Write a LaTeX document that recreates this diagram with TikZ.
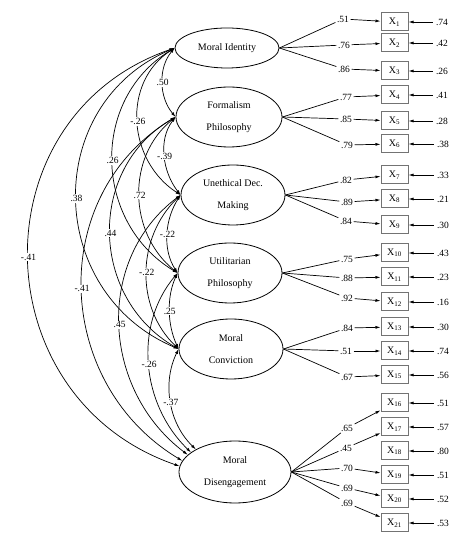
\documentclass[tikz,border=0pt]{standalone}
\usepackage{fontspec}
\setmainfont{Liberation Serif}
\usetikzlibrary{shapes.geometric, arrows.meta, positioning}

\begin{document}
\begin{tikzpicture}[
  x=1pt, y=1pt,
  latent/.style={
    ellipse,
    draw,
    line width=0.8pt,
    minimum width=#1,
    minimum height=60pt,
    inner sep=0pt,
    align=center,
    font=\fontsize{10}{22}\selectfont
  },
  latent/.default=106pt,
  item/.style={
    rectangle,
    draw=black!55,
    line width=1pt,
    minimum width=27pt,
    minimum height=18pt,
    inner sep=0pt,
    font=\fontsize{10}{12}\selectfont
  },
  coef/.style={inner sep=1.5pt, font=\fontsize{9.5}{11}\selectfont},
  errlab/.style={inner sep=3pt, font=\fontsize{9.5}{11}\selectfont},
  covlab/.style={fill=white, inner sep=1pt, font=\fontsize{9.5}{11}\selectfont},
  load/.style={line width=0.7pt, -{Latex[length=5pt,width=3pt]}},
  cov/.style={line width=0.7pt, {Latex[length=5pt,width=3pt]}-{Latex[length=5pt,width=3pt]}}
]
  \useasboundingbox (0,0) rectangle (474,543);

  \node[latent=104pt, minimum height=40pt] (mi) at (227,495) {Moral Identity};
  \node[latent] (fp) at (229,426) {Formalism\\Philosophy};
  \node[latent=104pt] (udm) at (233,348) {Unethical Dec.\\Making};
  \node[latent=104pt] (up) at (230,270) {Utilitarian\\Philosophy};
  \node[latent=104pt] (mc) at (231,194) {Moral\\Conviction};
  \node[latent=112pt, minimum height=62pt] (md) at (235,71) {Moral\\Disengagement};

  \node[item] (x1) at (394.5,521) {X\textsubscript{1}};
  \node[item] (x2) at (394.5,500) {X\textsubscript{2}};
  \node[item] (x3) at (394.5,472) {X\textsubscript{3}};
  \node[item] (x4) at (394.5,448) {X\textsubscript{4}};
  \node[item] (x5) at (394.5,422) {X\textsubscript{5}};
  \node[item] (x6) at (394.5,399) {X\textsubscript{6}};
  \node[item] (x7) at (394.5,368) {X\textsubscript{7}};
  \node[item] (x8) at (394.5,344) {X\textsubscript{8}};
  \node[item] (x9) at (394.5,318) {X\textsubscript{9}};
  \node[item] (x10) at (394.5,290) {X\textsubscript{10}};
  \node[item] (x11) at (394.5,266) {X\textsubscript{11}};
  \node[item] (x12) at (394.5,241) {X\textsubscript{12}};
  \node[item] (x13) at (394.5,216) {X\textsubscript{13}};
  \node[item] (x14) at (394.5,192) {X\textsubscript{14}};
  \node[item] (x15) at (394.5,168) {X\textsubscript{15}};
  \node[item] (x16) at (394.5,140) {X\textsubscript{16}};
  \node[item] (x17) at (394.5,116) {X\textsubscript{17}};
  \node[item] (x18) at (394.5,92) {X\textsubscript{18}};
  \node[item] (x19) at (394.5,68) {X\textsubscript{19}};
  \node[item] (x20) at (394.5,44) {X\textsubscript{20}};
  \node[item] (x21) at (394.5,20) {X\textsubscript{21}};

  \node[coef] (l1) at (343,524) {.51};
  \node[coef] (l2) at (344,498) {.76};
  \node[coef] (l3) at (344,474) {.86};
  \node[coef] (l4) at (346,446) {.77};
  \node[coef] (l5) at (346,424) {.85};
  \node[coef] (l6) at (347,398) {.79};
  \node[coef] (l7) at (346,363) {.82};
  \node[coef] (l8) at (347,341) {.89};
  \node[coef] (l9) at (346,322) {.84};
  \node[coef] (l10) at (347,284) {.75};
  \node[coef] (l11) at (347,265) {.88};
  \node[coef] (l12) at (347,245) {.92};
  \node[coef] (l13) at (347,215) {.84};
  \node[coef] (l14) at (346,192) {.51};
  \node[coef] (l15) at (347,166) {.67};
  \node[coef] (l16) at (347,115) {.65};
  \node[coef] (l17) at (346,95) {.45};
  \node[coef] (l19) at (347,75) {.70};
  \node[coef] (l20) at (347,55) {.69};
  \node[coef] (l21) at (347,40) {.69};

  \node[errlab] (e1) at (442,521) {.74};
  \node[errlab] (e2) at (442,500) {.42};
  \node[errlab] (e3) at (442,472) {.26};
  \node[errlab] (e4) at (442,448) {.41};
  \node[errlab] (e5) at (442,422) {.28};
  \node[errlab] (e6) at (443,399) {.38};
  \node[errlab] (e7) at (443,368) {.33};
  \node[errlab] (e8) at (443,344) {.21};
  \node[errlab] (e9) at (443,318) {.30};
  \node[errlab] (e10) at (443,290) {.43};
  \node[errlab] (e11) at (443,266) {.23};
  \node[errlab] (e12) at (443,241) {.16};
  \node[errlab] (e13) at (443,216) {.30};
  \node[errlab] (e14) at (443,192) {.74};
  \node[errlab] (e15) at (443,168) {.56};
  \node[errlab] (e16) at (443,140) {.51};
  \node[errlab] (e17) at (443,116) {.57};
  \node[errlab] (e18) at (443,92) {.80};
  \node[errlab] (e19) at (443,68) {.51};
  \node[errlab] (e20) at (443,44) {.52};
  \node[errlab] (e21) at (443,20) {.53};

  \draw[line width=0.7pt] (mi.east) -- (l1);
  \draw[line width=0.7pt] (mi.east) -- (l2);
  \draw[line width=0.7pt] (mi.east) -- (l3);
  \draw[line width=0.7pt] (fp.east) -- (l4);
  \draw[line width=0.7pt] (fp.east) -- (l5);
  \draw[line width=0.7pt] (fp.east) -- (l6);
  \draw[line width=0.7pt] (udm.east) -- (l7);
  \draw[line width=0.7pt] (udm.east) -- (l8);
  \draw[line width=0.7pt] (udm.east) -- (l9);
  \draw[line width=0.7pt] (up.east) -- (l10);
  \draw[line width=0.7pt] (up.east) -- (l11);
  \draw[line width=0.7pt] (up.east) -- (l12);
  \draw[line width=0.7pt] (mc.east) -- (l13);
  \draw[line width=0.7pt] (mc.east) -- (l14);
  \draw[line width=0.7pt] (mc.east) -- (l15);
  \draw[line width=0.7pt] (md.east) -- (l16);
  \draw[line width=0.7pt] (md.east) -- (l17);
  \draw[line width=0.7pt] (md.east) -- (l19);
  \draw[line width=0.7pt] (md.east) -- (l20);
  \draw[line width=0.7pt] (md.east) -- (l21);

  \draw[load] (l1) -- (x1);
  \draw[load] (l2) -- (x2);
  \draw[load] (l3) -- (x3);
  \draw[load] (l4) -- (x4);
  \draw[load] (l5) -- (x5);
  \draw[load] (l6) -- (x6);
  \draw[load] (l7) -- (x7);
  \draw[load] (l8) -- (x8);
  \draw[load] (l9) -- (x9);
  \draw[load] (l10) -- (x10);
  \draw[load] (l11) -- (x11);
  \draw[load] (l12) -- (x12);
  \draw[load] (l13) -- (x13);
  \draw[load] (l14) -- (x14);
  \draw[load] (l15) -- (x15);
  \draw[load] (l16) -- (x16);
  \draw[load] (l17) -- (x17);
  \draw[load] (l19) -- (x19);
  \draw[load] (l20) -- (x20);
  \draw[load] (l21) -- (x21);

  \draw[load] (e1) -- (x1);
  \draw[load] (e2) -- (x2);
  \draw[load] (e3) -- (x3);
  \draw[load] (e4) -- (x4);
  \draw[load] (e5) -- (x5);
  \draw[load] (e6) -- (x6);
  \draw[load] (e7) -- (x7);
  \draw[load] (e8) -- (x8);
  \draw[load] (e9) -- (x9);
  \draw[load] (e10) -- (x10);
  \draw[load] (e11) -- (x11);
  \draw[load] (e12) -- (x12);
  \draw[load] (e13) -- (x13);
  \draw[load] (e14) -- (x14);
  \draw[load] (e15) -- (x15);
  \draw[load] (e16) -- (x16);
  \draw[load] (e17) -- (x17);
  \draw[load] (e18) -- (x18);
  \draw[load] (e19) -- (x19);
  \draw[load] (e20) -- (x20);
  \draw[load] (e21) -- (x21);

  \draw[cov] (mi.west) to[out=230, in=130, looseness=0.96] node[covlab] {.50} (fp.west);
  \draw[cov] (fp.west) to[out=232, in=128, looseness=0.95] node[covlab] {-.39} (udm.west);
  \draw[cov] (udm.west) to[out=237, in=123, looseness=0.93] node[covlab] {-.22} (up.west);
  \draw[cov] (up.west) to[out=245, in=115, looseness=0.89] node[covlab] {.25} (mc.west);
  \draw[cov] (mc.west) to[out=244, in=136, looseness=0.95] node[covlab] {-.37} (md.150);
  \draw[cov] (mi.west) to[out=213, in=147, looseness=1.10] node[covlab] {-.26} (udm.west);
  \draw[cov] (fp.west) to[out=219, in=141, looseness=1.04] node[covlab] {.72} (up.west);
  \draw[cov] (udm.west) to[out=224, in=136, looseness=1.01] node[covlab] {-.22} (mc.west);
  \draw[cov] (up.west) to[out=230, in=136, looseness=0.98] node[covlab] {-.26} (md.156);
  \draw[cov] (mi.west) to[out=211, in=149, looseness=1.12] node[covlab] {.26} (up.west);
  \draw[cov] (fp.west) to[out=210, in=150, looseness=1.13] node[covlab] {.44} (mc.west);
  \draw[cov] (udm.west) to[out=217, in=143, looseness=1.06] node[covlab] {.45} (md.160);
  \draw[cov] (mi.west) to[out=203, in=157, looseness=1.23] node[covlab] {.38} (mc.west);
  \draw[cov] (fp.west) to[out=211, in=149, looseness=1.12] node[covlab] {-.41} (md.168);
  \draw[cov] (mi.west) to[out=199, in=161, looseness=1.28] node[covlab] {-.41} (md.174);
\end{tikzpicture}
\end{document}
